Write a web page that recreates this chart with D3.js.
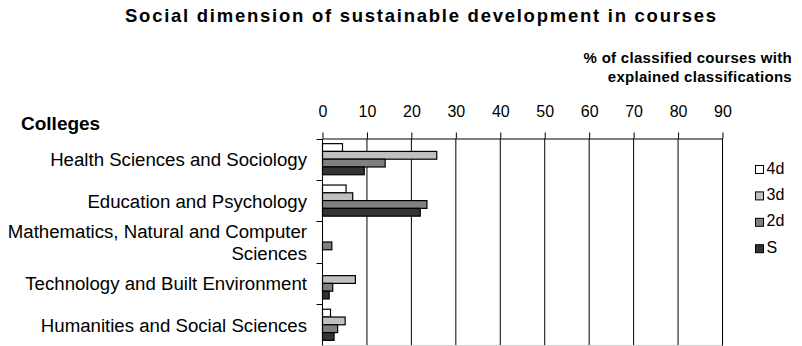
<!DOCTYPE html>
<html>
<head>
<meta charset="utf-8">
<script src="https://cdn.jsdelivr.net/npm/d3@7"></script>
<style>
  html, body { margin: 0; padding: 0; background: #fff; }
  svg { display: block; font-family: "Liberation Sans", Arial, sans-serif; }
</style>
</head>
<body>
<svg id="chart" width="802" height="346"></svg>
<script>
// Colleges (rows) and the four classification levels (bars within each row)
const colleges = [
  "Health Sciences and Sociology",
  "Education and Psychology",
  "Mathematics, Natural and Computer Sciences",
  "Technology and Built Environment",
  "Humanities and Social Sciences"
];
const collegeLines = [
  ["Health Sciences and Sociology"],
  ["Education and Psychology"],
  ["Mathematics, Natural and Computer", "Sciences"],
  ["Technology and Built Environment"],
  ["Humanities and Social Sciences"]
];
const seriesNames = ["4d", "3d", "2d", "S"];
const values4d = [4.5, 5.3, 0, 0, 1.8];
const values3d = [25.7, 6.8, 0, 7.4, 5.1];
const values2d = [14.1, 23.5, 2.1, 2.3, 3.4];
const valuesS  = [9.4, 22.0, 0, 1.5, 2.6];
const xTicks = [0, 10, 20, 30, 40, 50, 60, 70, 80, 90];
const seriesColors = ["#ffffff", "#c0c0c0", "#808080", "#333333"];

const seriesValues = [values4d, values3d, values2d, valuesS];

const svg = d3.select("#chart");

const plotLeft = 322.5, plotRight = 722.5, plotTop = 138.5, plotBottom = 345.5;

const x = d3.scaleLinear().domain([0, 90]).range([plotLeft, plotRight]);
const y0 = d3.scaleBand().domain(colleges).range([plotTop, plotBottom]);
const y1 = d3.scaleBand().domain(seriesNames)
  .range([0, y0.bandwidth()]).paddingInner(0).paddingOuter(0.66);
const color = d3.scaleOrdinal().domain(seriesNames).range(seriesColors);

// Widen text glyphs slightly by a fixed factor
function stretch(sel, k) {
  sel.each(function () {
    const w = this.getComputedTextLength();
    d3.select(this).attr("textLength", w * k).attr("lengthAdjust", "spacingAndGlyphs");
  });
}

// Title
svg.append("text")
  .attr("x", 420.5).attr("y", 21.5)
  .attr("text-anchor", "middle")
  .attr("font-size", 18.5).attr("font-weight", "bold")
  .attr("textLength", 591).attr("lengthAdjust", "spacing")
  .text("Social dimension of sustainable development in courses");

// Value axis title (two lines, right-aligned)
svg.append("g")
  .selectAll("text")
  .data([["% of classified courses with", 62.5], ["explained classifications", 82]])
  .join("text")
  .attr("x", 792).attr("y", d => d[1])
  .attr("text-anchor", "end")
  .attr("font-size", 15).attr("font-weight", "bold")
  .attr("letter-spacing", 0.3)
  .text(d => d[0]);

// Category axis title
svg.append("text")
  .attr("x", 21).attr("y", 130)
  .attr("font-size", 19).attr("font-weight", "bold")
  .text("Colleges");

// Vertical gridlines
svg.append("g")
  .selectAll("line")
  .data(xTicks.filter(d => d > 0))
  .join("line")
  .attr("x1", d => x(d)).attr("x2", d => x(d))
  .attr("y1", plotTop).attr("y2", plotBottom)
  .attr("stroke", "#000").attr("stroke-width", 1);

// Plot area bottom edge
svg.append("line")
  .attr("x1", plotLeft).attr("x2", plotRight)
  .attr("y1", 345.5).attr("y2", 345.5)
  .attr("stroke", "#d0d0d0");

// Top value axis
const xAxis = d3.axisTop(x).tickValues(xTicks).tickSize(6).tickSizeOuter(0);
const gx = svg.append("g").attr("transform", `translate(0,${plotTop})`).call(xAxis);
gx.attr("font-family", null).attr("font-size", null);
gx.select(".domain").attr("stroke", "#000");
gx.selectAll(".tick line").attr("stroke", "#000");
gx.selectAll(".tick text")
  .attr("font-size", 16)
  .attr("fill", "#000").attr("y", -21.5).attr("dy", 0);

// Left category axis: line and ticks at category boundaries
svg.append("line")
  .attr("x1", plotLeft).attr("x2", plotLeft)
  .attr("y1", plotTop).attr("y2", plotBottom)
  .attr("stroke", "#000");
svg.append("g").selectAll("line")
  .data(colleges.map(c => y0(c)))
  .join("line")
  .attr("x1", plotLeft - 6).attr("x2", plotLeft)
  .attr("y1", d => Math.round(d) + 0.5).attr("y2", d => Math.round(d) + 0.5)
  .attr("stroke", "#000");

// Category labels
const labelG = svg.append("g");
colleges.forEach((c, i) => {
  const lines = collegeLines[i];
  const cy = y0(c) + y0.bandwidth() / 2;
  const lh = 21.7;
  lines.forEach((ln, j) => {
    labelG.append("text")
      .attr("text-anchor", "end")
      .attr("font-size", 18)
      .attr("fill", "#000")
      .attr("x", 307)
      .attr("y", cy + 7 + (j - (lines.length - 1) / 2) * lh)
      .text(ln);
  });
});
stretch(labelG.selectAll("text"), 1.035);

// Bars
const rows = colleges.map((c, i) => ({
  college: c,
  bars: seriesNames.map((s, k) => ({ key: s, value: seriesValues[k][i] }))
}));
svg.append("g")
  .selectAll("g")
  .data(rows)
  .join("g")
  .attr("transform", d => `translate(0,${y0(d.college)})`)
  .selectAll("rect")
  .data(d => d.bars.filter(b => b.value > 0))
  .join("rect")
  .attr("x", x(0))
  .attr("y", d => y1(d.key))
  .attr("width", d => x(d.value) - x(0))
  .attr("height", y1.bandwidth())
  .attr("fill", d => color(d.key))
  .attr("stroke", "#000").attr("stroke-width", 1.2);

// Plot area border (right)
svg.append("line")
  .attr("x1", plotRight).attr("x2", plotRight)
  .attr("y1", plotTop).attr("y2", plotBottom)
  .attr("stroke", "#000");

// Legend
const legend = svg.append("g").attr("transform", "translate(755,165)");
seriesNames.forEach((s, i) => {
  const g = legend.append("g").attr("transform", `translate(0,${i * 26.4})`);
  g.append("rect")
    .attr("x", 0.5).attr("y", 0.5).attr("width", 8).attr("height", 8)
    .attr("fill", color(s)).attr("stroke", "#000");
  g.append("text")
    .attr("x", 11.5).attr("y", 8.5)
    .attr("font-size", 16).attr("fill", "#000")
    .text(s);
});
</script>
</body>
</html>
